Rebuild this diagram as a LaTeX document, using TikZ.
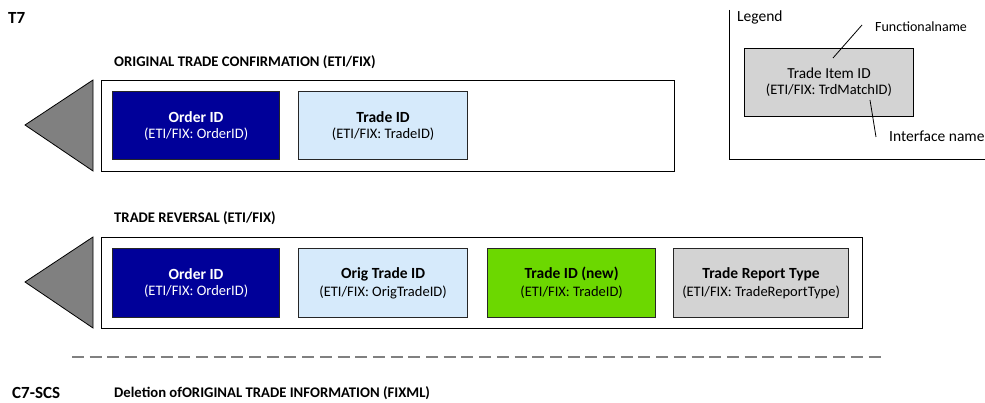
\documentclass[tikz,border=0pt]{standalone}
\usepackage{fontspec}
\setmainfont{Carlito}
\begin{document}
\begin{tikzpicture}[x=1pt,y=-1pt,
  frame/.style={draw=black,line width=1pt,fill=white},
  idbox/.style={draw=black!85,line width=1.2pt,align=center,inner sep=0pt},
  arrowtri/.style={draw=black,line width=0.8pt,fill=black!50},
  sect/.style={font=\fontsize{14.7}{17}\selectfont\bfseries,anchor=west,inner sep=0pt},
  sys/.style={font=\fontsize{17}{20}\selectfont\bfseries,anchor=west,inner sep=0pt},
  plain/.style={font=\fontsize{14}{16}\selectfont,anchor=west,inner sep=0pt},
  plainl/.style={font=\fontsize{15.5}{18}\selectfont,anchor=west,inner sep=0pt}]
\useasboundingbox (0,0) rectangle (985,403);
\definecolor{navy}{HTML}{000099}
\definecolor{lightblue}{HTML}{D6EAFB}
\definecolor{lgreen}{HTML}{6CD800}
\definecolor{lgray}{HTML}{D3D3D3}
\newcommand{\idcontent}[2]{{\fontsize{15.5}{19}\selectfont\bfseries #1}\\[4pt]{\fontsize{14.5}{17}\selectfont #2}}

\node[sys] (t7) at (8,18) {T7};

% section 1
\node[sect] (s1) at (114,62) {ORIGINAL TRADE CONFIRMATION (ETI/FIX)};
\draw[arrowtri] (93,80) -- (93,171) -- (25,125) -- cycle;
\node[frame,minimum width=573,minimum height=91,anchor=north west] (f1) at (101,80) {};
\node[idbox,fill=navy,text=white,minimum width=167,minimum height=68,anchor=north west] (o1) at (112,91) {\idcontent{Order ID}{(ETI/FIX: OrderID)}};
\node[idbox,fill=lightblue,minimum width=169,minimum height=68,anchor=north west] (t1) at (298,91) {\idcontent{Trade ID}{(ETI/FIX: TradeID)}};

% legend
\coordinate (lg1) at (729,10);
\coordinate (lg2) at (729,159);
\coordinate (lg3) at (990,159);
\draw[line width=0.8pt] (lg1) -- (lg2) -- (lg3);
\node[plainl] (leg) at (737,17) {Legend};
\node[idbox,draw=black,fill=lgray,minimum width=169,minimum height=68,anchor=north west,line width=1pt] (li) at (744,48) {{\fontsize{15.3}{18}\selectfont Trade Item ID}\\[4pt]{\fontsize{14.5}{17}\selectfont (ETI/FIX: TrdMatchID)}};
\node[plain] (fn) at (875,27) {Functionalname};
\node[plainl] (ifn) at (889,136) {Interface name};
\coordinate (fa) at (862,25);
\coordinate (fb) at (833,58);
\coordinate (ia) at (870,100);
\coordinate (ib) at (876,137);
\draw[line width=0.8pt] (fa) -- (fb);
\draw[line width=0.8pt] (ia) -- (ib);

% section 2
\node[sect] (s2) at (114,218) {TRADE REVERSAL (ETI/FIX)};
\draw[arrowtri] (93,237) -- (93,328) -- (25,282) -- cycle;
\node[frame,minimum width=761,minimum height=91,anchor=north west] (f2) at (101,237) {};
\node[idbox,fill=navy,text=white,minimum width=167,minimum height=69,anchor=north west] (o2) at (112,248) {\idcontent{Order ID}{(ETI/FIX: OrderID)}};
\node[idbox,fill=lightblue,minimum width=169,minimum height=69,anchor=north west] (ot2) at (298,248) {\idcontent{Orig Trade ID}{(ETI/FIX: OrigTradeID)}};
\node[idbox,fill=lgreen,minimum width=168,minimum height=69,anchor=north west] (tn2) at (487,248) {\idcontent{Trade ID (new)}{(ETI/FIX: TradeID)}};
\node[idbox,fill=lgray,minimum width=175,minimum height=69,anchor=north west] (tr2) at (673,248) {\idcontent{Trade Report Type}{(ETI/FIX: TradeReportType)}};

% separator
\coordinate (d1) at (72,357);
\coordinate (d2) at (883,357);
\draw[black!50,line width=1.8pt,dash pattern=on 12pt off 5.7pt] (d1) -- (d2);

\node[sys] (c7) at (12,393) {C7-SCS};
\node[sect] (s3) at (114,393) {Deletion ofORIGINAL TRADE INFORMATION (FIXML)};
\end{tikzpicture}
\end{document}
